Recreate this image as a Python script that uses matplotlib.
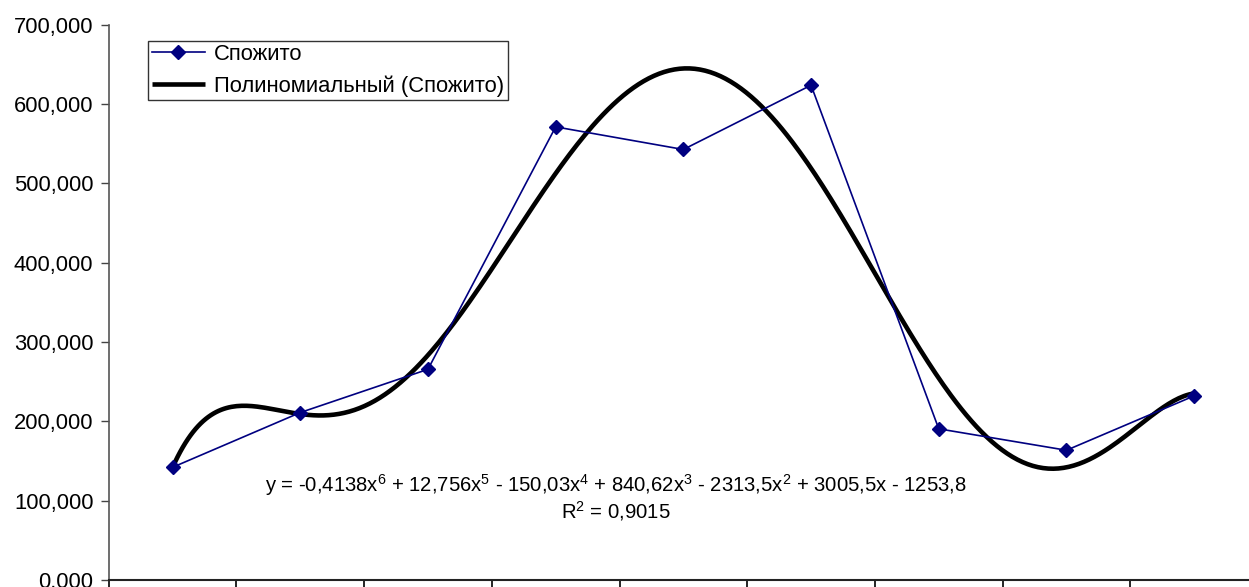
import numpy as np
import matplotlib
matplotlib.use("Agg")
import matplotlib.pyplot as plt
from matplotlib.ticker import FuncFormatter, FixedLocator

plt.rcParams['font.family'] = ['Liberation Sans', 'DejaVu Sans']
plt.rcParams['mathtext.fontset'] = 'custom'
plt.rcParams['mathtext.rm'] = 'Liberation Sans'
plt.rcParams['mathtext.it'] = 'Liberation Sans'

# Series data
periods = [1, 2, 3, 4, 5, 6, 7, 8, 9]
consumed = [142, 211, 265.5, 571, 542.5, 623.5, 190.5, 163.5, 232]
series_name = "Спожито"
trend_name = "Полиномиальный (Спожито)"
equation_text = ("y = -0,4138x$^6$ + 12,756x$^5$ - 150,03x$^4$ + 840,62x$^3$"
                 " - 2313,5x$^2$ + 3005,5x - 1253,8")
r2_text = "R$^2$ = 0,9015"
y_ticks = [0, 100, 200, 300, 400, 500, 600, 700]

W, H = 1249, 587
fig = plt.figure(figsize=(W / 100, H / 100), dpi=100)
left_px, right_px, top_px, bottom_px = 108.7, 1258.0, 24.5, 580.0
ax = fig.add_axes([left_px / W, (H - bottom_px) / H,
                   (right_px - left_px) / W, (bottom_px - top_px) / H])

# Polynomial trend (degree 6) fitted to the series
x = np.array(periods, dtype=float)
coef = np.polyfit(x, np.array(consumed, dtype=float), 6)
xs = np.linspace(x.min(), x.max(), 400)
ax.plot(xs, np.polyval(coef, xs), color='black', lw=3.3,
        solid_capstyle='butt', label=trend_name, zorder=2)
ax.plot(periods, consumed, color='#000080', lw=1.2, marker='D',
        markersize=7.5, markeredgecolor='#000080', markerfacecolor='#000080',
        label=series_name, zorder=3)

ax.set_xlim(0.5, 9.5)
ax.set_ylim(0, 700)
ax.xaxis.set_major_locator(FixedLocator(np.arange(0.5, 10, 1.0)))
ax.xaxis.set_major_formatter(FuncFormatter(lambda v, p: ""))
ax.yaxis.set_major_locator(FixedLocator(y_ticks))
ax.yaxis.set_major_formatter(FuncFormatter(lambda v, p: f"{v:.3f}".replace('.', ',')))
ax.tick_params(axis='y', direction='out', length=6, width=1, colors='#444444',
               labelcolor='black', labelsize=15.8, pad=5)
ax.tick_params(axis='x', direction='out', length=7, width=1.2, colors='black')

for s in ('top', 'right'):
    ax.spines[s].set_visible(False)
ax.spines['left'].set_color('#555555')
ax.spines['left'].set_linewidth(1.2)
ax.spines['bottom'].set_color('#222222')
ax.spines['bottom'].set_linewidth(1.5)

handles, labels = ax.get_legend_handles_labels()
leg = ax.legend(handles[::-1], labels[::-1], loc='upper left',
                bbox_to_anchor=((148.3 - left_px) / (right_px - left_px),
                                (bottom_px - 40.8) / (bottom_px - top_px)),
                fontsize=15.8, frameon=True, fancybox=False, edgecolor='black',
                borderpad=0.15, handlelength=2.45, handletextpad=0.4,
                labelspacing=0.48, borderaxespad=0)
leg.get_frame().set_linewidth(1.0)

ax.text(615.5 / W, (H - 485) / H, equation_text, transform=fig.transFigure,
        ha='center', va='center', fontsize=14.6)
ax.text(615.5 / W, (H - 511) / H, r2_text, transform=fig.transFigure,
        ha='center', va='center', fontsize=14.6)

fig.savefig("out.png", dpi=100)
